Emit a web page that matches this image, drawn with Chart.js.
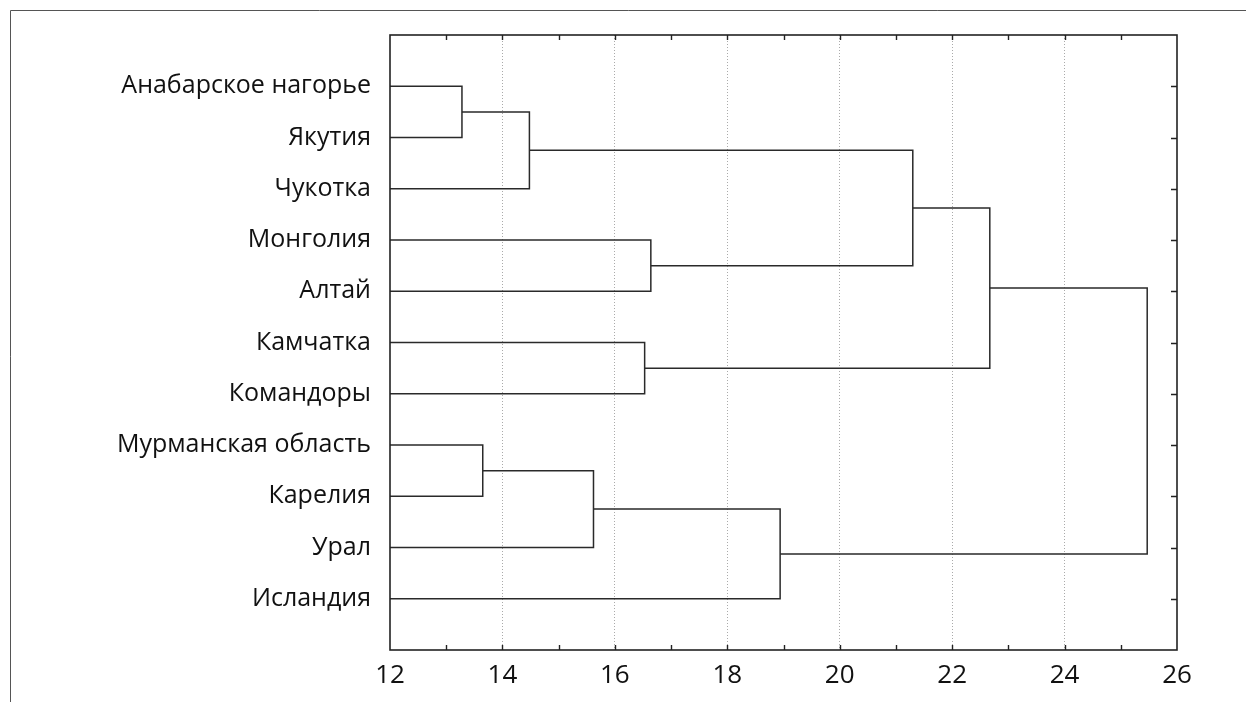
<!DOCTYPE html>
<html>
<head>
<meta charset="utf-8">
<script src="https://cdn.jsdelivr.net/npm/chart.js@4"></script>
<style>
  html, body { margin: 0; padding: 0; background: #fff; }
  #wrap { position: relative; width: 1246px; height: 702px; }
</style>
</head>
<body>
<div id="wrap"><canvas id="tree" width="1246" height="702"></canvas></div>
<script>
// leaves, top to bottom
const leaves = ["Анабарское нагорье", "Якутия", "Чукотка", "Монголия", "Алтай",
    "Камчатка", "Командоры", "Мурманская область", "Карелия", "Урал", "Исландия"];
// merges: [child a, child b] ; ids 0..10 are leaves, 11.. are merges in order
const mergePairs = [[0, 1], [11, 2], [3, 4], [5, 6], [7, 8], [15, 9], [16, 10], [12, 13], [18, 14], [19, 17]];
const mergeHeights = [13.28, 14.48, 16.64, 16.53, 13.65, 15.62, 18.94, 21.30, 22.67, 25.47];
const xTicks = [12, 14, 16, 18, 20, 22, 24, 26];

const X_MIN = 12, X_MAX = 26;
const FONT = "'Open Sans', sans-serif";

// position (row) and height of every node
let pos = leaves.map((l, i) => i + 1);
let height = leaves.map(() => X_MIN);
mergePairs.forEach((p, i) => {
    pos.push((pos[p[0]] + pos[p[1]]) / 2);
    height.push(mergeHeights[i]);
});

const datasets = mergePairs.map((p, i) => {
    let a = p[0], b = p[1], h = mergeHeights[i];
    return {
        data: [
            { x: height[a], y: pos[a] },
            { x: h, y: pos[a] },
            { x: h, y: pos[b] },
            { x: height[b], y: pos[b] }
        ],
        showLine: true,
        borderColor: '#2a2a2a',
        borderWidth: 1.5,
        pointRadius: 0,
        fill: false,
        tension: 0
    };
});

// frame, outer border and inward ticks
const framePlugin = {
    id: 'frame',
    beforeDraw(chart) {
        let ctx = chart.ctx;
        ctx.save();
        ctx.strokeStyle = '#555';
        ctx.lineWidth = 1;
        ctx.beginPath();
        ctx.moveTo(10.5, 702);
        ctx.lineTo(10.5, 10.5);
        ctx.lineTo(1246, 10.5);
        ctx.stroke();
        ctx.restore();
    },
    afterDraw(chart) {
        let ctx = chart.ctx, a = chart.chartArea;
        let xs = chart.scales.x, ys = chart.scales.y;
        ctx.save();
        ctx.strokeStyle = '#222';
        ctx.lineWidth = 1.6;
        ctx.strokeRect(a.left, a.top, a.right - a.left, a.bottom - a.top);
        ctx.lineWidth = 1.4;
        ctx.beginPath();
        for (let v = X_MIN + 1; v < X_MAX; v++) {
            let px = Math.round(xs.getPixelForValue(v)) + 0.5;
            ctx.moveTo(px, a.bottom);
            ctx.lineTo(px, a.bottom - 5);
            ctx.moveTo(px, a.top);
            ctx.lineTo(px, a.top + 5);
        }
        leaves.forEach((l, i) => {
            let py = Math.round(ys.getPixelForValue(i + 1)) + 0.5;
            ctx.moveTo(a.right, py);
            ctx.lineTo(a.right - 6, py);
        });
        ctx.stroke();
        ctx.restore();
    }
};

new Chart(document.getElementById('tree'), {
    type: 'scatter',
    data: { datasets: datasets },
    options: {
        responsive: false,
        animation: false,
        events: [],
        layout: { padding: { left: 0, right: 69, top: 35, bottom: 0 } },
        plugins: { legend: { display: false }, tooltip: { enabled: false } },
        scales: {
            x: {
                type: 'linear',
                min: X_MIN,
                max: X_MAX,
                afterFit: s => { s.height = 52; },
                afterBuildTicks: s => { s.ticks = xTicks.map(v => ({ value: v })); },
                ticks: {
                    autoSkip: false,
                    maxRotation: 0,
                    padding: 10,
                    color: '#111',
                    font: { family: FONT, size: 26 }
                },
                grid: {
                    drawTicks: false,
                    color: c => (c.tick && c.tick.value > X_MIN && c.tick.value < X_MAX) ? '#aaa' : 'rgba(0,0,0,0)',
                    lineWidth: 1
                },
                border: { display: false, dash: [1, 2] }
            },
            y: {
                type: 'linear',
                min: 0,
                max: leaves.length + 1,
                reverse: true,
                afterFit: s => { s.width = 390; },
                afterBuildTicks: s => { s.ticks = leaves.map((l, i) => ({ value: i + 1 })); },
                ticks: {
                    autoSkip: false,
                    padding: 19,
                    color: '#111',
                    font: { family: FONT, size: 25 },
                    callback: v => leaves[v - 1]
                },
                grid: { display: false, drawTicks: false },
                border: { display: false }
            }
        }
    },
    plugins: [framePlugin]
});
</script>
</body>
</html>
